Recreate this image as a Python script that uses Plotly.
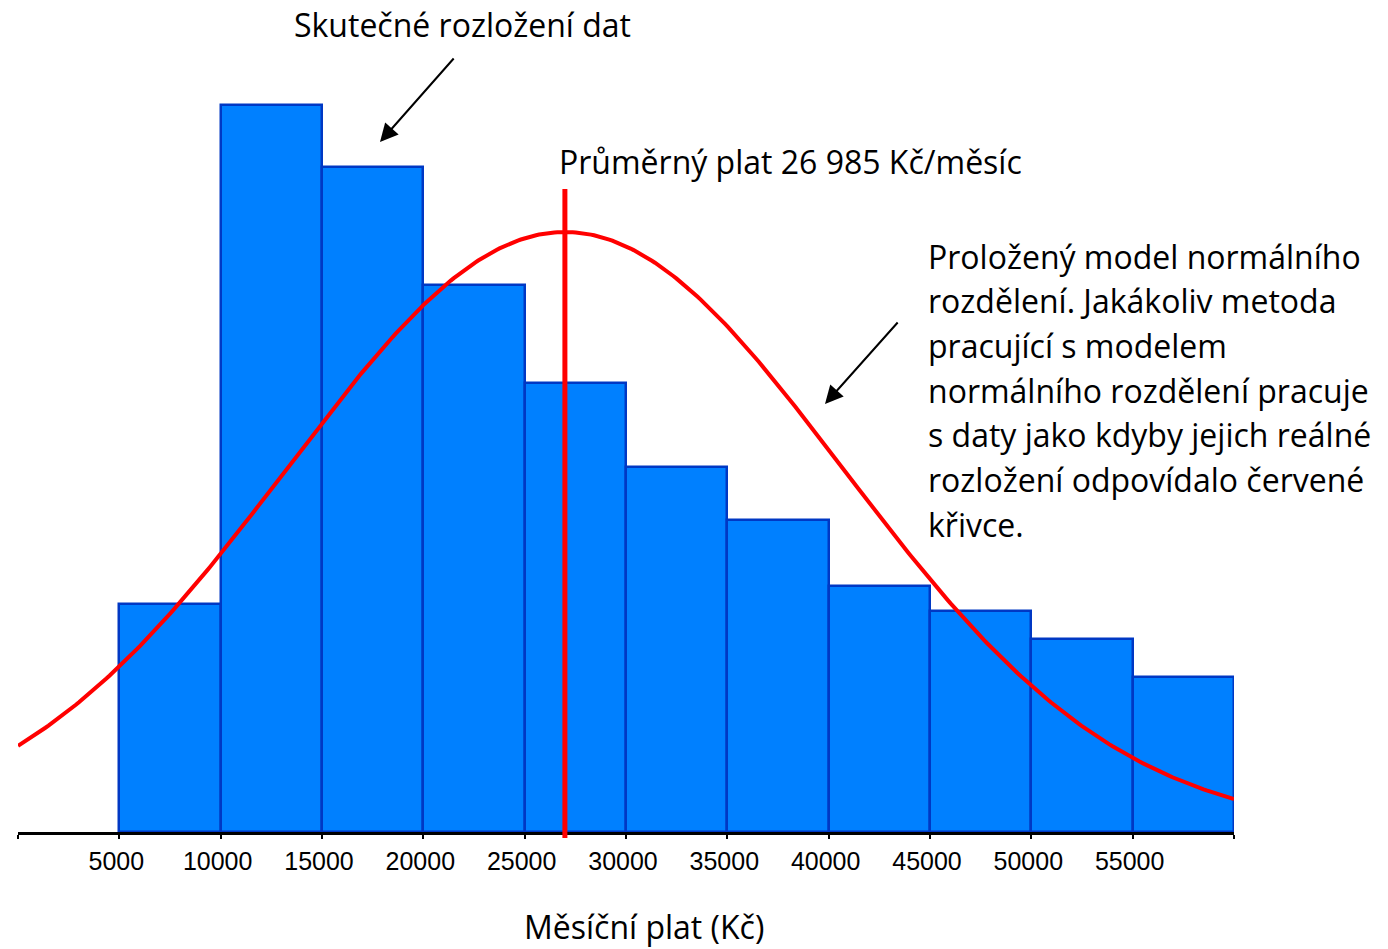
import numpy as np
import plotly.graph_objects as go

# Salary histogram: bin starts (Kč) and relative frequencies
bin_starts = [5000, 10000, 15000, 20000, 25000, 30000, 35000, 40000, 45000, 50000, 55000]
bin_width = 5000
frequencies = [31.4, 100, 91.5, 75.2, 61.8, 50.2, 42.9, 33.8, 30.4, 26.5, 21.3]

# Fitted normal model
mean_salary = 26985
sd_salary = 13700
model_peak = 82.5

tick_values = [0, 5000, 10000, 15000, 20000, 25000, 30000, 35000, 40000, 45000, 50000, 55000, 60000]
tick_labels = ["", "5000", "10000", "15000", "20000", "25000", "30000", "35000",
               "40000", "45000", "50000", "55000", ""]

W, H = 1388, 949
ML, MR, MT, MB = 18, 154, 0, 117
PW, PH = W - ML - MR, H - MT - MB
Y_MAX = 114.4


def px(xp):
    return (xp - ML) / PW


def py(yp):
    return (H - MB - yp) / PH


TEXT_FONT = "Open Sans"
TEXT_SIZE = 32

fig = go.Figure()

fig.add_trace(go.Bar(
    x=[s + bin_width / 2 for s in bin_starts],
    y=frequencies,
    width=bin_width,
    marker=dict(color="#0080FF", line=dict(color="#0038C4", width=2.5)),
    hoverinfo="skip",
))

xs = np.linspace(0, 60000, 400)
ys = model_peak * np.exp(-((xs - mean_salary) ** 2) / (2 * sd_salary ** 2))
fig.add_trace(go.Scatter(x=xs, y=ys, mode="lines",
                         line=dict(color="#FF0000", width=4), hoverinfo="skip"))

# Mean salary marker
fig.add_shape(type="line", xref="x", yref="paper",
              x0=mean_salary, x1=mean_salary, y0=py(838), y1=py(189),
              line=dict(color="#FF0000", width=5))

annotations = [
    dict(text="Skutečné rozložení dat", x=px(462), y=py(24), xanchor="center"),
    dict(text="Průměrný plat 26 985 Kč/měsíc", x=px(557), y=py(162), xanchor="left"),
]

note_lines = [
    "Proložený model normálního",
    "rozdělení. Jakákoliv metoda",
    "pracující s modelem",
    "normálního rozdělení pracuje",
    "s daty jako kdyby jejich reálné",
    "rozložení odpovídalo červené",
    "křivce.",
]
for i, line in enumerate(note_lines):
    annotations.append(dict(text=line, x=px(926), y=py(256 + i * 44.7), xanchor="left"))

annotations.append(dict(text="Měsíční plat (Kč)", x=px(644), y=py(926), xanchor="center"))

layout_annotations = []
for a in annotations:
    a.update(xref="paper", yref="paper", yanchor="middle", showarrow=False,
             font=dict(family=TEXT_FONT, size=TEXT_SIZE, color="#000000"))
    layout_annotations.append(a)

# Pointer arrows
for (tx, ty, hx, hy) in [(455, 57, 380, 142), (899, 321, 825, 404)]:
    layout_annotations.append(dict(
        xref="paper", yref="paper", x=px(hx), y=py(hy),
        axref="pixel", ayref="pixel", ax=tx - hx, ay=ty - hy,
        text="", showarrow=True, arrowhead=2, arrowsize=1.8, arrowwidth=2,
        arrowcolor="#000000", standoff=0,
    ))

fig.update_layout(
    width=W, height=H,
    margin=dict(l=ML, r=MR, t=MT, b=MB),
    paper_bgcolor="white", plot_bgcolor="white",
    showlegend=False, bargap=0,
    annotations=layout_annotations,
    xaxis=dict(range=[0, 60000], tickmode="array", tickvals=tick_values, ticktext=tick_labels,
               showline=True, linecolor="#000000", linewidth=3, ticks="outside",
               ticklen=4, tickwidth=2, tickcolor="#000000", showgrid=False, zeroline=False,
               tickfont=dict(family="Liberation Sans", size=25, color="#000000"),
               ticklabelshift=-3, ticklabelstandoff=1),
    yaxis=dict(range=[0, Y_MAX], visible=False, showgrid=False, zeroline=False),
)

fig.write_html("out.html")
